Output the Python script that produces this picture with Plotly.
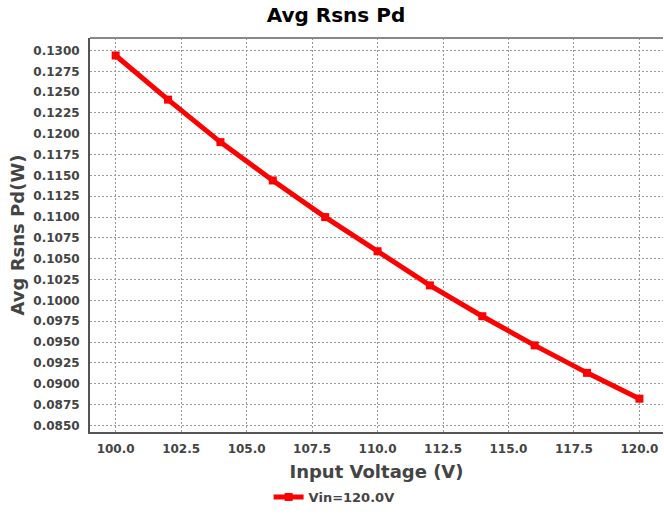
import plotly.graph_objects as go

input_voltage = [100, 102, 104, 106, 108, 110, 112, 114, 116, 118, 120]
avg_rsns_pd = [0.1294, 0.1241, 0.1190, 0.1144, 0.1100, 0.1059, 0.1018, 0.0981, 0.0946, 0.0913, 0.0882]
series_name = "Vin=120.0V"

FONT = "DejaVu Sans"

fig = go.Figure()
fig.add_trace(go.Scatter(
    x=input_voltage, y=avg_rsns_pd, name=series_name,
    mode="lines+markers",
    line=dict(color="#ff0000", width=5),
    marker=dict(symbol="square", size=8, color="#ff0000"),
))

fig.update_layout(
    width=664, height=515,
    margin=dict(l=90, r=1, t=38, b=83, autoexpand=False),
    paper_bgcolor="white", plot_bgcolor="white",
    title=dict(text="<b>Avg Rsns Pd</b>", font=dict(family=FONT, size=20, color="#000"),
               x=0.506, xref="container", xanchor="center",
               y=1 - 15 / 515, yref="container", yanchor="middle"),
    showlegend=True,
    legend=dict(x=0.426, y=-0.165, xanchor="center", yanchor="middle",
                orientation="h", font=dict(family=FONT, size=13, color="#444", weight="bold"),
                itemwidth=30, bgcolor="rgba(0,0,0,0)"),
    font=dict(family=FONT),
)

fig.update_xaxes(
    range=[99.02, 120.9], tick0=100, dtick=2.5, tickformat=".1f",
    showline=True, linecolor="#555", linewidth=2,
    showgrid=True, gridcolor="#999", griddash="2px,2px", gridwidth=1,
    zeroline=False, automargin=False,
    ticks="", ticklabelstandoff=5,
    tickfont=dict(family=FONT, size=12, color="#444", weight="bold"),
    title=dict(text="<b>Input Voltage (V)</b>", font=dict(family=FONT, size=18, color="#444"), standoff=10),
)
fig.update_yaxes(
    range=[0.0842, 0.1315], tick0=0.085, dtick=0.0025, tickformat=".4f",
    showline=True, linecolor="#555", linewidth=2,
    showgrid=True, gridcolor="#999", griddash="2px,2px", gridwidth=1,
    zeroline=False, automargin=False,
    ticks="", ticklabelstandoff=6,
    tickfont=dict(family=FONT, size=12, color="#444", weight="bold"),
    title=dict(text="<b>Avg Rsns Pd(W)</b>", font=dict(family=FONT, size=18, color="#444"), standoff=4),
)

fig.add_shape(type="line", xref="paper", yref="paper", x0=0, x1=1, y0=1, y1=1,
              line=dict(color="#888", width=2))

fig.write_html("out.html", config={"displayModeBar": False},
               post_script="document.body.style.margin='0';document.body.style.overflow='hidden';")
